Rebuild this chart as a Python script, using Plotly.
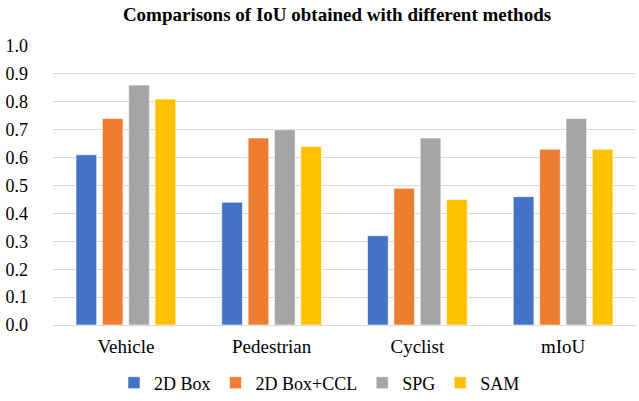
import plotly.graph_objects as go

categories = ["Vehicle", "Pedestrian", "Cyclist", "mIoU"]
box2d = [0.61, 0.44, 0.32, 0.46]
box2d_ccl = [0.74, 0.67, 0.49, 0.63]
spg = [0.86, 0.70, 0.67, 0.74]
sam = [0.81, 0.64, 0.45, 0.63]
series_names = ["2D Box", "2D Box+CCL", "SPG", "SAM"]
colors = ["#4472C4", "#ED7D31", "#A5A5A5", "#FFC000"]
tick_vals = [0.0, 0.1, 0.2, 0.3, 0.4, 0.5, 0.6, 0.7, 0.8, 0.9, 1.0]
tick_text = ["0.0", "0.1", "0.2", "0.3", "0.4", "0.5", "0.6", "0.7", "0.8", "0.9", "1.0"]

font_family = "Liberation Serif, Times New Roman, serif"

fig = go.Figure()
for name, vals, c in zip(series_names, [box2d, box2d_ccl, spg, sam], colors):
    fig.add_trace(go.Bar(
        x=categories, y=vals, name=name,
        marker=dict(color=c, line=dict(color="rgba(255,255,255,0.6)", width=1)),
    ))

fig.update_layout(
    width=639, height=401,
    barmode="group", bargap=0.277, bargroupgap=0.216,
    paper_bgcolor="white", plot_bgcolor="white",
    margin=dict(l=53, r=3, t=46, b=76, autoexpand=False),
    title=dict(text="<b>Comparisons of IoU obtained with different methods</b>",
               x=337 / 639, xanchor="center", xref="container",
               y=1 - 14 / 401, yanchor="middle", yref="container",
               font=dict(family=font_family, size=19, color="black")),
    font=dict(family=font_family, size=18, color="black"),
    legend=dict(orientation="h", x=0.5, xanchor="center", xref="container",
                y=1 - 383 / 401, yanchor="middle", yref="container",
                font=dict(family=font_family, size=18, color="black"),
                itemwidth=30, traceorder="normal"),
    showlegend=True,
)
fig.update_yaxes(range=[0, 1.0], tickvals=tick_vals, ticktext=tick_text,
                 showgrid=True, gridcolor="#D9D9D9", gridwidth=1,
                 zeroline=False, showline=False, ticks="",
                 ticklabelstandoff=24,
                 tickfont=dict(family=font_family, size=18, color="black"))
fig.update_xaxes(showline=True, linecolor="#D9D9D9", linewidth=1, ticks="",
                 ticklabelstandoff=4,
                 tickfont=dict(family=font_family, size=19, color="black"))

fig.write_html("out.html",
               config={"displayModeBar": False},
               post_script="document.body.style.margin='0px';document.body.style.overflow='hidden';")
